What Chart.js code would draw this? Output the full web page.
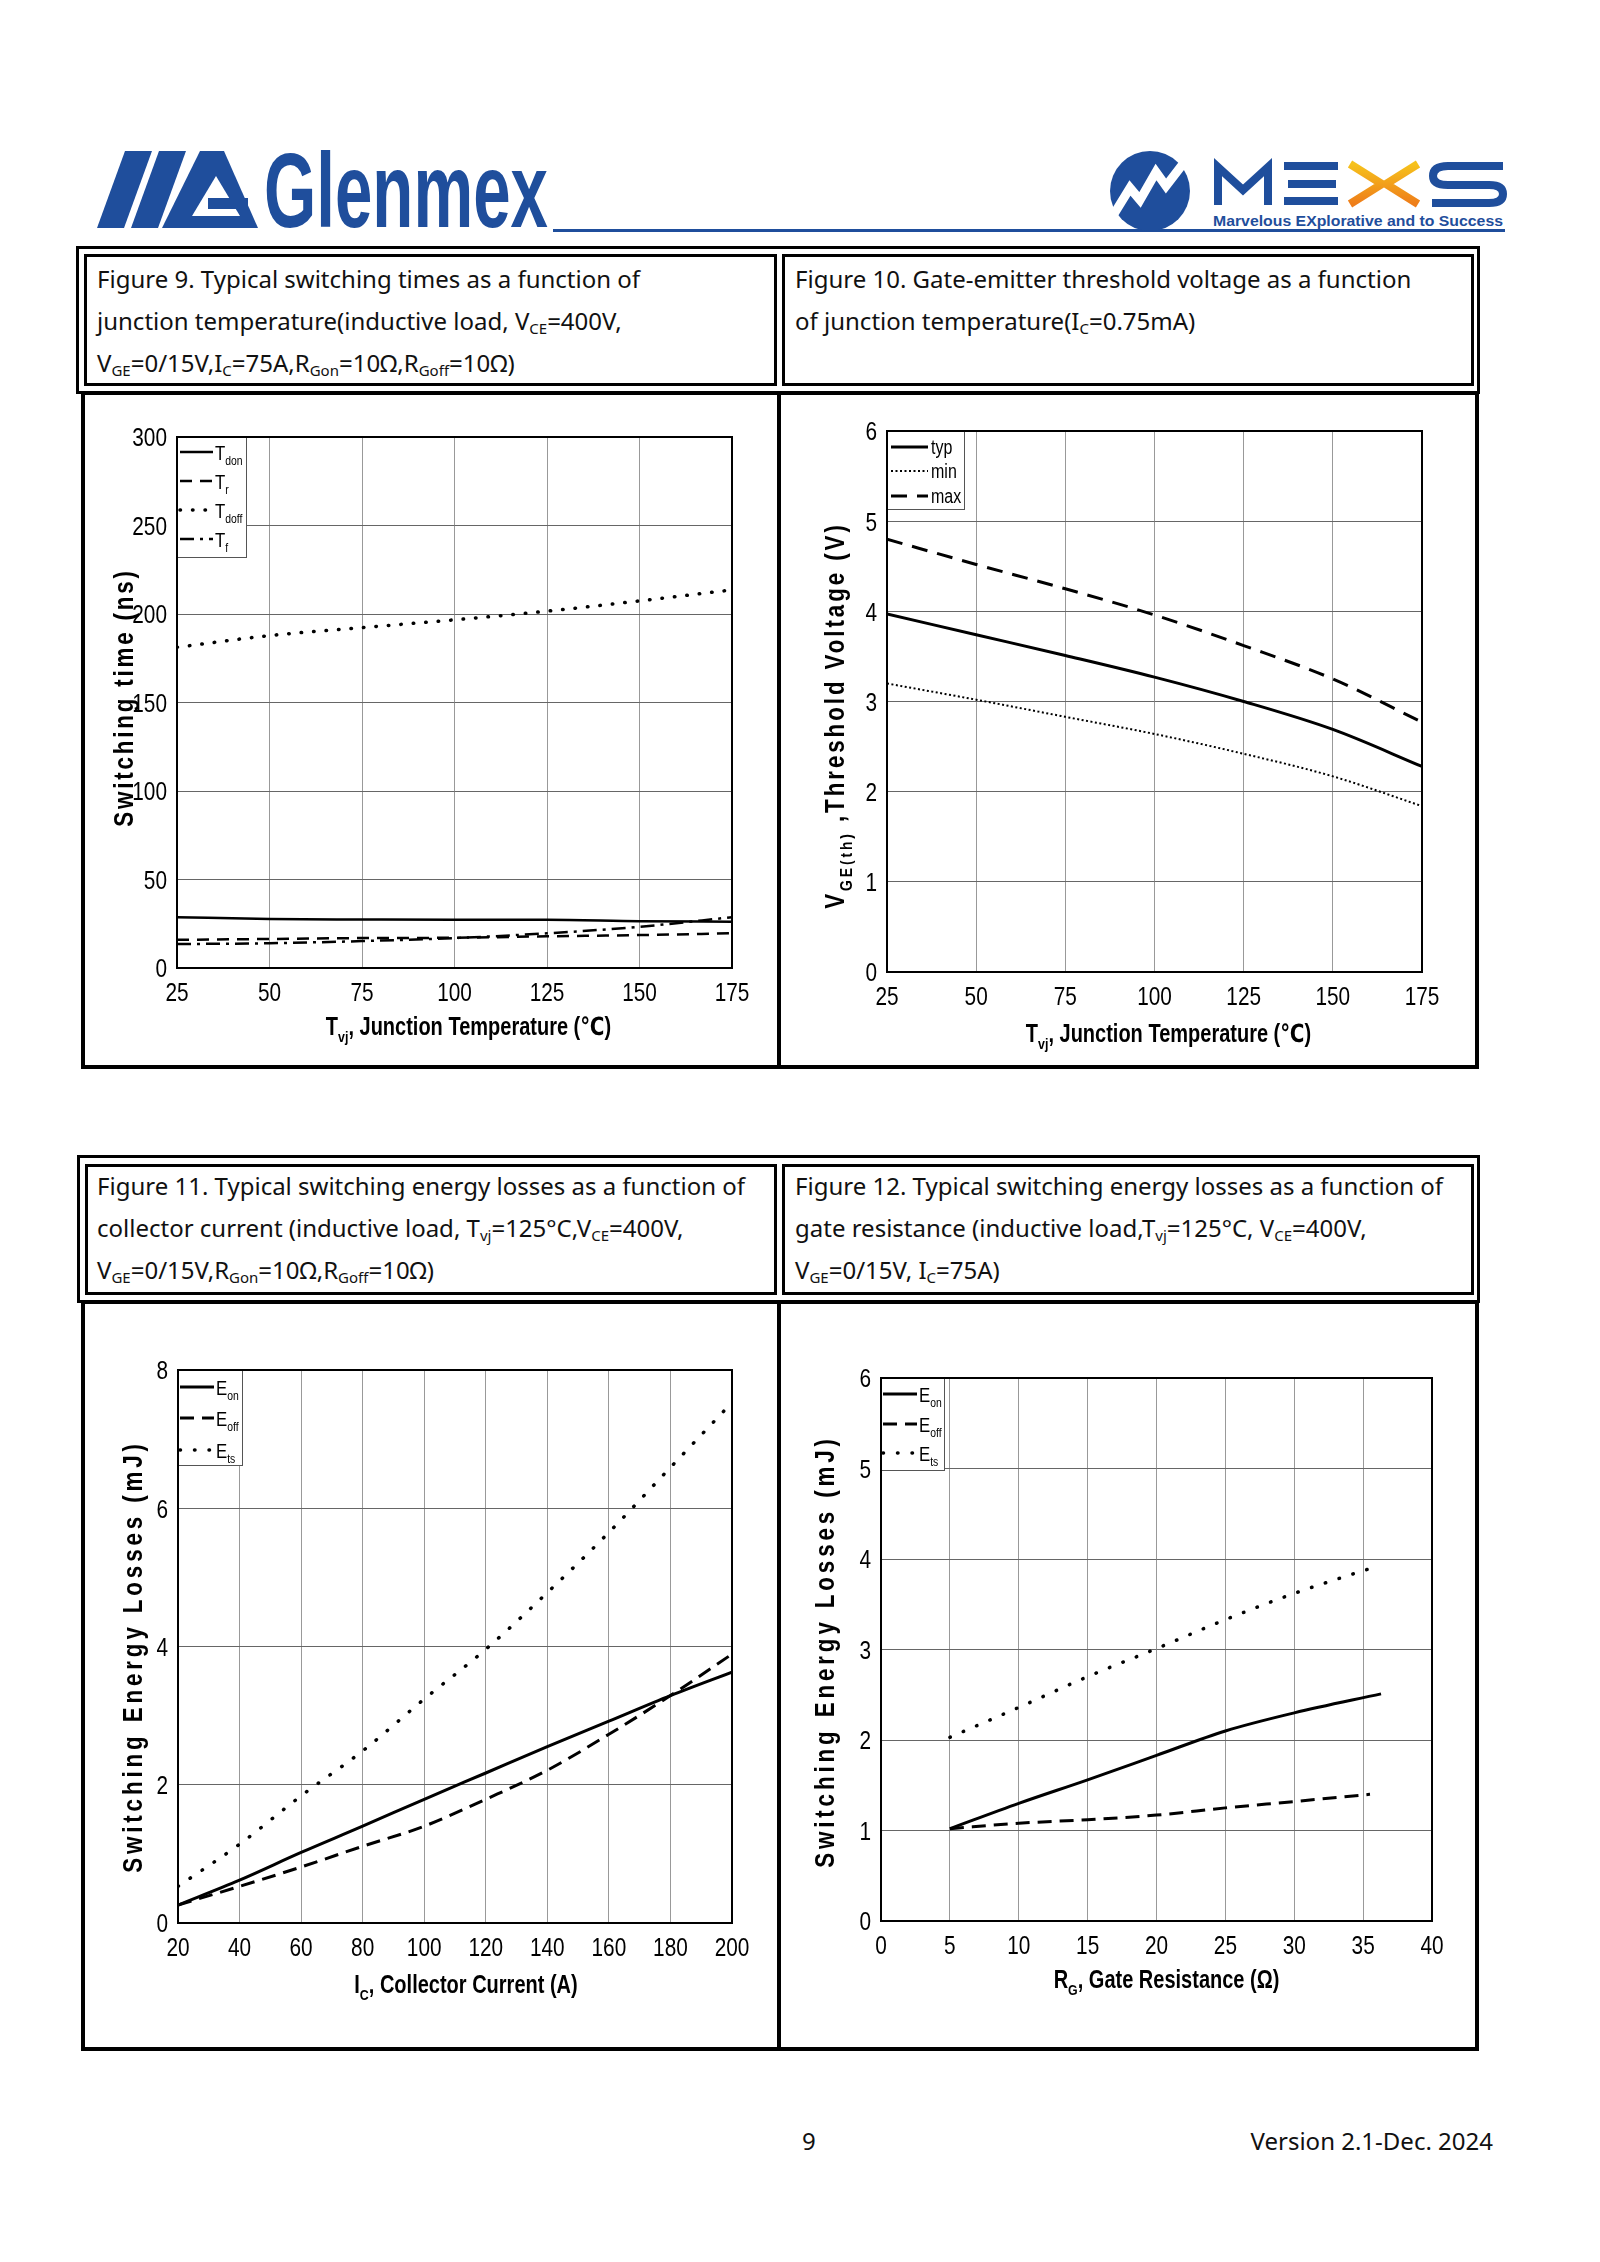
<!DOCTYPE html>
<html>
<head>
<meta charset="utf-8">
<script src="https://cdn.jsdelivr.net/npm/chart.js@4.4.1/dist/chart.umd.min.js"></script>
<style>
body { margin: 0; background: #fff; }
#page { position: relative; width: 1600px; height: 2262px; overflow: hidden; font-family: "Noto Sans", sans-serif; color: #111; }
.box { position: absolute; box-sizing: border-box; border: 3px solid #000; }
.cap { position: absolute; font-size: 24px; line-height: 42px; white-space: nowrap; }
.cap sub { font-size: 15px; vertical-align: -4px; line-height: 0; }
canvas { position: absolute; }
.foot { position: absolute; font-size: 24px; white-space: nowrap; }
</style>
</head>
<body>
<div id="page">

<svg width="1600" height="250" style="position:absolute;left:0;top:0">
  <g fill="#1f4e9c">
    <polygon points="97,228 124,228 152,151 125,151"/>
    <polygon points="131,228 158,228 186,151 159,151"/>
    <polygon points="162,228 258,228 224,151 200,151"/>
  </g>
  <polygon fill="#fff" points="192,216 240,216 216,176"/>
  <rect fill="#1f4e9c" x="208" y="198" width="40" height="11"/>
  <text x="264" y="227" textLength="284" lengthAdjust="spacingAndGlyphs" font-family="Liberation Sans" font-weight="bold" font-size="106" fill="#1f4e9c">Glenmex</text>
  <rect x="553" y="229" width="952" height="3" fill="#1f4e9c"/>
  <circle cx="1150" cy="191" r="40" fill="#1f4e9c"/>
  <polyline points="1114,214 1130,188 1140,200 1156,172 1166,186 1186,160" fill="none" stroke="#fff" stroke-width="9"/>
  <polyline points="1218,205 1218,167 1243,190 1268,167 1268,205" fill="none" stroke="#1f4e9c" stroke-width="8"/>
  <g fill="#1f4e9c">
    <rect x="1284" y="162" width="54" height="8"/>
    <rect x="1288" y="180" width="48" height="8"/>
    <rect x="1284" y="197" width="54" height="8"/>
  </g>
  <defs>
    <linearGradient id="xg" x1="0" y1="0" x2="0" y2="1">
      <stop offset="0" stop-color="#f6c21c"/>
      <stop offset="1" stop-color="#ee7d1a"/>
    </linearGradient>
  </defs>
  <path d="M1350,164 L1382,184 L1350,204 M1418,164 L1386,184 L1418,204" fill="none" stroke="url(#xg)" stroke-width="8"/>
  <path d="M1503,166 L1448,166 Q1433,166 1433,176 Q1433,185 1448,185 L1489,185 Q1503,185 1503,194 Q1503,203 1489,203 L1432,203" fill="none" stroke="#1f4e9c" stroke-width="8"/>
  <text x="1213" y="226" textLength="290" lengthAdjust="spacingAndGlyphs" font-family="Liberation Sans" font-weight="bold" font-size="15" fill="#1f4e9c">Marvelous EXplorative and to Success</text>
</svg>

<!-- top row -->
<div class="box" style="left:76px;top:246px;width:1404px;height:148px;"></div>
<div class="box" style="left:84px;top:254px;width:693px;height:132px;"></div>
<div class="box" style="left:782px;top:254px;width:692px;height:132px;"></div>
<div class="box" style="left:81px;top:391px;width:1398px;height:678px;border-width:4px;"></div>
<div class="box" style="left:777px;top:391px;width:4px;height:678px;border-width:0;background:#000;"></div>
<div class="cap" style="left:97px;top:258px;">Figure 9. Typical switching times as a function of<br>junction temperature(inductive load, V<sub>CE</sub>=400V,<br>V<sub>GE</sub>=0/15V,I<sub>C</sub>=75A,R<sub>Gon</sub>=10Ω,R<sub>Goff</sub>=10Ω)</div>
<div class="cap" style="left:795px;top:258px;">Figure 10. Gate-emitter threshold voltage as a function<br>of junction temperature(I<sub>C</sub>=0.75mA)</div>

<!-- bottom row -->
<div class="box" style="left:77px;top:1155px;width:1403px;height:148px;"></div>
<div class="box" style="left:85px;top:1164px;width:692px;height:131px;"></div>
<div class="box" style="left:782px;top:1164px;width:692px;height:131px;"></div>
<div class="box" style="left:81px;top:1300px;width:1398px;height:751px;border-width:4px;"></div>
<div class="box" style="left:777px;top:1300px;width:4px;height:751px;border-width:0;background:#000;"></div>
<div class="cap" style="left:97px;top:1165px;">Figure 11. Typical switching energy losses as a function of<br>collector current (inductive load, T<sub>vj</sub>=125°C,V<sub>CE</sub>=400V,<br>V<sub>GE</sub>=0/15V,R<sub>Gon</sub>=10Ω,R<sub>Goff</sub>=10Ω)</div>
<div class="cap" style="left:795px;top:1165px;">Figure 12. Typical switching energy losses as a function of<br>gate resistance (inductive load,T<sub>vj</sub>=125°C, V<sub>CE</sub>=400V,<br>V<sub>GE</sub>=0/15V, I<sub>C</sub>=75A)</div>

<canvas id="fig9"></canvas>
<canvas id="fig10"></canvas>
<canvas id="fig11"></canvas>
<canvas id="fig12"></canvas>

<div class="foot" style="left:802px;top:2124px;">9</div>
<div class="foot" style="right:107px;top:2124px;">Version 2.1-Dec. 2024</div>
</div>

<script>
// Figure 9: switching times vs junction temperature
var tempC = [25, 50, 75, 100, 125, 150, 175];
var tDon = [28.7, 27.7, 27.4, 27.2, 27.2, 26.4, 26.2];
var tR = [15.9, 16.4, 16.9, 17.1, 17.9, 18.6, 19.6];
var tDoff = [181.2, 187.8, 192.3, 196.7, 201.6, 207.4, 213.6];
var tF = [13.5, 14.0, 15.2, 16.9, 19.6, 23.3, 28.7];

// Figure 10: threshold voltage vs junction temperature
var vthTyp = [3.97, 3.74, 3.51, 3.27, 3.00, 2.69, 2.28];
var vthMin = [3.20, 3.02, 2.83, 2.64, 2.42, 2.17, 1.84];
var vthMax = [4.80, 4.52, 4.25, 3.96, 3.62, 3.25, 2.77];

// Figure 11: energy losses vs collector current
var icA = [20, 40, 60, 80, 100, 120, 140, 160, 180, 200];
var eonIc = [0.26, 0.62, 1.02, 1.40, 1.79, 2.17, 2.55, 2.92, 3.29, 3.63];
var eoffIc = [0.26, 0.53, 0.81, 1.11, 1.40, 1.79, 2.21, 2.73, 3.29, 3.89];
var etsIc = [0.53, 1.14, 1.84, 2.49, 3.24, 3.96, 4.78, 5.65, 6.59, 7.53];

// Figure 12: energy losses vs gate resistance
var rgOn = [5, 10, 15, 20, 25, 30, 36.3];
var eonRg = [1.02, 1.30, 1.56, 1.83, 2.10, 2.30, 2.51];
var rgOff = [5, 10, 15, 20, 25, 30, 35.5];
var eoffRg = [1.02, 1.08, 1.12, 1.17, 1.25, 1.32, 1.40];
var rgTs = [5, 10, 15, 20, 25, 30, 35.8];
var etsRg = [2.03, 2.36, 2.70, 3.01, 3.33, 3.62, 3.91];

// no narrow font installed, so Liberation Sans is squeezed horizontally
var fam = '"Liberation Sans", "DejaVu Sans", sans-serif';
var SQ = 0.8;
var TICK_FS = 26;

function pts(xs, ys) {
    return xs.map(function (x, i) { return { x: x, y: ys[i] }; });
}

// text with subscripts: parts = [[text, isSub], ...]
function drawRich(ctx, x, y, parts, fs, align, sp, bold) {
    var w = bold ? 'bold ' : '';
    ctx.save();
    ctx.letterSpacing = (sp / SQ) + 'px';
    var widths = parts.map(function (p) {
        ctx.font = w + (p[1] ? fs * 0.62 : fs) + 'px ' + fam;
        return ctx.measureText(p[0]).width;
    });
    var total = widths.reduce(function (s, v) { return s + v; }, 0) * SQ;
    var start = x;
    if (align == 'center') start = x - total / 2;
    if (align == 'right') start = x - total;
    ctx.translate(start, y);
    ctx.scale(SQ, 1);
    ctx.textAlign = 'left';
    ctx.textBaseline = 'alphabetic';
    ctx.fillStyle = '#000';
    var cx = 0;
    parts.forEach(function (p, i) {
        ctx.font = w + (p[1] ? fs * 0.62 : fs) + 'px ' + fam;
        ctx.fillText(p[0], cx, p[1] ? fs * 0.28 : 0);
        cx += widths[i];
    });
    ctx.restore();
}

var sheetPlugin = {
    id: 'sheet',
    afterDraw: function (chart, args, opts) {
        var ctx = chart.ctx;
        var a = chart.chartArea;
        var xs = chart.scales.x, ys = chart.scales.y;
        ctx.save();

        // tick labels from the scales
        xs.ticks.forEach(function (t) {
            drawRich(ctx, xs.getPixelForValue(t.value), a.bottom + 24 + TICK_FS * 0.36, [[t.label, 0]], TICK_FS, 'center', 0, false);
        });
        ys.ticks.forEach(function (t) {
            drawRich(ctx, a.left - 10, ys.getPixelForValue(t.value) + TICK_FS * 0.36, [[t.label, 0]], TICK_FS, 'right', 0, false);
        });

        // legend box
        var lg = opts.legend;
        ctx.fillStyle = '#fff';
        ctx.fillRect(a.left, a.top, lg.w, lg.h);
        ctx.strokeStyle = '#555';
        ctx.lineWidth = 1;
        ctx.strokeRect(a.left + 0.5, a.top + 0.5, lg.w, lg.h);
        chart.data.datasets.forEach(function (ds, i) {
            var y = a.top + lg.rows[i];
            ctx.beginPath();
            ctx.setLineDash(ds.borderDash || []);
            ctx.lineWidth = ds.borderWidth;
            ctx.lineCap = ds.borderCapStyle || 'butt';
            ctx.strokeStyle = '#000';
            ctx.moveTo(a.left + lg.x0, y);
            ctx.lineTo(a.left + lg.x1, y);
            ctx.stroke();
            ctx.setLineDash([]);
            ctx.lineCap = 'butt';
            var parts = ds.sub ? [[ds.main, 0], [ds.sub, 1]] : [[ds.main, 0]];
            drawRich(ctx, a.left + lg.tx, y + lg.fs * 0.36, parts, lg.fs, 'left', 0, false);
        });

        // plot frame
        ctx.strokeStyle = '#000';
        ctx.lineWidth = 2;
        ctx.strokeRect(a.left, a.top, a.right - a.left, a.bottom - a.top);

        // x title
        var xt = opts.xTitle;
        drawRich(ctx, (a.left + a.right) / 2 + xt.dx, a.bottom + xt.dy + xt.fs * 0.36, xt.parts, xt.fs, 'center', 0, true);

        // y title
        var yt = opts.yTitle;
        ctx.translate(a.left + yt.cx, (a.top + a.bottom) / 2 + yt.cy);
        ctx.rotate(-Math.PI / 2);
        drawRich(ctx, 0, yt.fs * 0.36, yt.parts, yt.fs, 'center', yt.sp, true);
        ctx.restore();
    }
};

function buildChart(id, cell, plot, xAxis, yAxis, datasets, sheet) {
    var cv = document.getElementById(id);
    cv.width = cell[2] - cell[0];
    cv.height = cell[3] - cell[1];
    cv.style.left = cell[0] + 'px';
    cv.style.top = cell[1] + 'px';
    return new Chart(cv, {
        type: 'line',
        data: { datasets: datasets },
        options: {
            responsive: false,
            animation: false,
            devicePixelRatio: 1,
            layout: { padding: { left: 0, top: plot[1] - cell[1], right: cell[2] - plot[2], bottom: 0 } },
            plugins: { legend: { display: false }, tooltip: { enabled: false }, sheet: sheet },
            elements: { point: { radius: 0 }, line: { cubicInterpolationMode: 'monotone', borderColor: '#000' } },
            scales: {
                x: {
                    type: 'linear', min: xAxis[0], max: xAxis[1],
                    ticks: { stepSize: xAxis[2], display: false, autoSkip: false },
                    grid: { color: '#999', lineWidth: 1, drawTicks: false },
                    border: { display: false },
                    afterFit: function (s) { s.height = cell[3] - plot[3]; }
                },
                y: {
                    type: 'linear', min: yAxis[0], max: yAxis[1],
                    ticks: { stepSize: yAxis[2], display: false, autoSkip: false },
                    grid: { color: '#666', lineWidth: 1, drawTicks: false },
                    border: { display: false },
                    afterFit: function (s) { s.width = plot[0] - cell[0]; }
                }
            }
        },
        plugins: [sheetPlugin]
    });
}

var solid = { borderColor: '#000', borderWidth: 2.5 };
function style(extra) { return Object.assign({}, solid, extra); }

// Figure 9
buildChart('fig9', [85, 394, 777, 1065], [177, 437, 732, 968], [25, 175, 25], [0, 300, 50], [
    style({ main: 'T', sub: 'don', data: pts(tempC, tDon) }),
    style({ main: 'T', sub: 'r', data: pts(tempC, tR), borderDash: [12, 8] }),
    style({ main: 'T', sub: 'doff', data: pts(tempC, tDoff), borderDash: [0.5, 12], borderWidth: 3.5, borderCapStyle: 'round' }),
    style({ main: 'T', sub: 'f', data: pts(tempC, tF), borderDash: [14, 6, 3, 6] })
], {
    legend: { w: 69, h: 120, rows: [15, 44, 73, 102], x0: 3, x1: 36, tx: 38, fs: 21 },
    xTitle: { parts: [['T', 0], ['vj', 1], [', Junction Temperature (\u2103)', 0]], dx: 14, dy: 58, fs: 25 },
    yTitle: { parts: [['Switching time (ns)', 0]], cx: -54, cy: -5, fs: 28, sp: 2.8 }
});

// Figure 10
buildChart('fig10', [781, 394, 1475, 1065], [887, 431, 1422, 972], [25, 175, 25], [0, 6, 1], [
    style({ main: 'typ', data: pts(tempC, vthTyp), borderWidth: 3 }),
    style({ main: 'min', data: pts(tempC, vthMin), borderDash: [2, 2.5], borderWidth: 2 }),
    style({ main: 'max', data: pts(tempC, vthMax), borderDash: [16, 10], borderWidth: 3 })
], {
    legend: { w: 77, h: 78, rows: [16, 40, 65], x0: 4, x1: 41, tx: 44, fs: 20 },
    xTitle: { parts: [['T', 0], ['vj', 1], [', Junction Temperature (\u2103)', 0]], dx: 14, dy: 61, fs: 25 },
    yTitle: { parts: [['V', 0], ['GE(th)', 1], [' ,Threshold Voltage (V)', 0]], cx: -53, cy: 14, fs: 28, sp: 2.9 }
});

// Figure 11
buildChart('fig11', [85, 1303, 777, 2047], [178, 1370, 732, 1923], [20, 200, 20], [0, 8, 2], [
    style({ main: 'E', sub: 'on', data: pts(icA, eonIc), borderWidth: 3 }),
    style({ main: 'E', sub: 'off', data: pts(icA, eoffIc), borderDash: [14, 8], borderWidth: 3 }),
    style({ main: 'E', sub: 'ts', data: pts(icA, etsIc), borderDash: [0.5, 14], borderWidth: 3.5, borderCapStyle: 'round' })
], {
    legend: { w: 64, h: 95, rows: [17, 48, 80], x0: 2, x1: 36, tx: 38, fs: 21 },
    xTitle: { parts: [['I', 0], ['C', 1], [', Collector Current (A)', 0]], dx: 11, dy: 61, fs: 25 },
    yTitle: { parts: [['Switching Energy Losses (mJ)', 0]], cx: -46, cy: 10, fs: 28, sp: 3.85 }
});

// Figure 12
buildChart('fig12', [781, 1303, 1475, 2047], [881, 1378, 1432, 1921], [0, 40, 5], [0, 6, 1], [
    style({ main: 'E', sub: 'on', data: pts(rgOn, eonRg), borderWidth: 3 }),
    style({ main: 'E', sub: 'off', data: pts(rgOff, eoffRg), borderDash: [14, 8], borderWidth: 3 }),
    style({ main: 'E', sub: 'ts', data: pts(rgTs, etsRg), borderDash: [0.5, 14], borderWidth: 3.5, borderCapStyle: 'round' })
], {
    legend: { w: 63, h: 92, rows: [16, 46, 75], x0: 2, x1: 36, tx: 38, fs: 21 },
    xTitle: { parts: [['R', 0], ['G', 1], [', Gate Resistance (\u03a9)', 0]], dx: 10, dy: 58, fs: 25 },
    yTitle: { parts: [['Switching Energy Losses (mJ)', 0]], cx: -57, cy: 2, fs: 28, sp: 3.85 }
});
</script>
</body>
</html>
